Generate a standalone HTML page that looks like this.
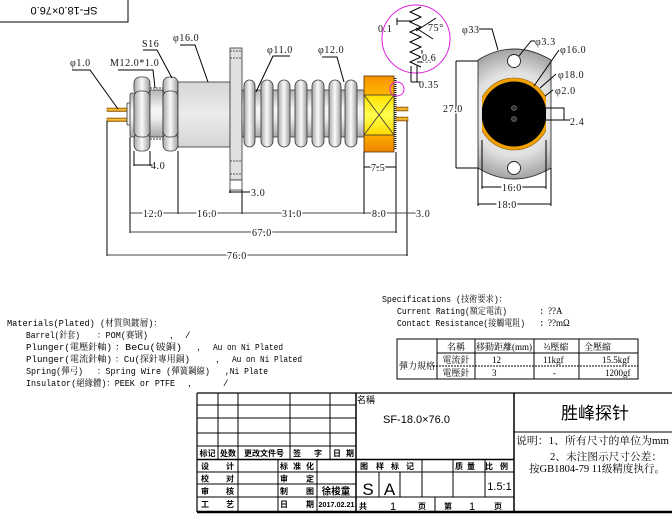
<!DOCTYPE html>
<html><head><meta charset="utf-8">
<style>
html,body{margin:0;padding:0;background:#fff;}
svg{display:block;}
.d{font-family:"Liberation Serif","Noto Serif CJK SC",serif;font-size:10px;fill:#111;letter-spacing:0.6px;}
.h{stroke:#fff;stroke-width:3;paint-order:stroke;}
.m{font-family:"Liberation Mono","Noto Serif CJK SC",monospace;font-size:9px;fill:#000;}
.s{font-family:"Liberation Serif","Noto Serif CJK SC",serif;font-size:9px;fill:#000;}
.k{font-family:"Liberation Sans","Noto Sans CJK SC",sans-serif;font-size:8px;font-weight:bold;fill:#000;}
.t{font-family:"Liberation Sans","Noto Sans CJK SC",sans-serif;fill:#000;}
.ln{stroke:#000;stroke-width:1;fill:none;}
.o{stroke:#333;stroke-width:0.8;}
</style></head><body>
<svg width="672" height="515" viewBox="0 0 672 515" xmlns="http://www.w3.org/2000/svg">
<defs>
 <linearGradient id="gv" x1="0" y1="0" x2="0" y2="1">
  <stop offset="0" stop-color="#b4b4b4"/><stop offset="0.4" stop-color="#f6f6f6"/><stop offset="0.6" stop-color="#eeeeee"/><stop offset="1" stop-color="#a8a8a8"/>
 </linearGradient>
 <linearGradient id="gb" x1="0" y1="0" x2="0" y2="1">
  <stop offset="0" stop-color="#d6d6d6"/><stop offset="0.5" stop-color="#ececec"/><stop offset="1" stop-color="#d4d4d4"/>
 </linearGradient>
 <linearGradient id="gh" x1="0" y1="0" x2="1" y2="0">
  <stop offset="0" stop-color="#a8a8a8"/><stop offset="0.5" stop-color="#fafafa"/><stop offset="1" stop-color="#9c9c9c"/>
 </linearGradient>
 <linearGradient id="go" x1="0" y1="0" x2="0" y2="1">
  <stop offset="0" stop-color="#f59000"/><stop offset="0.25" stop-color="#ffb800"/><stop offset="0.75" stop-color="#ffb000"/><stop offset="1" stop-color="#ee8400"/>
 </linearGradient>
 <linearGradient id="gy" x1="0" y1="0" x2="0" y2="1">
  <stop offset="0" stop-color="#ffe000"/><stop offset="0.5" stop-color="#ffff50"/><stop offset="1" stop-color="#ffd800"/>
 </linearGradient>
 <linearGradient id="gp" x1="0" y1="0" x2="0" y2="1">
  <stop offset="0" stop-color="#b86800"/><stop offset="0.5" stop-color="#ffd040"/><stop offset="1" stop-color="#a85c00"/>
 </linearGradient>
 <radialGradient id="gr" cx="514" cy="114" r="70" gradientUnits="userSpaceOnUse">
  <stop offset="0" stop-color="#fafafa"/><stop offset="0.6" stop-color="#e0e0e0"/><stop offset="1" stop-color="#959595"/>
 </radialGradient>
 <clipPath id="cf"><rect x="482" y="60" width="64" height="110"/></clipPath>
</defs>

<rect x="-1" y="-1" width="129" height="23" fill="#fff" stroke="#000" stroke-width="1"/>
<text class="t" font-size="11" transform="rotate(180 64 11)" x="64" y="15" text-anchor="middle">SF-18.0×76.0</text>

<rect x="107" y="108" width="21" height="3.5" fill="url(#gp)" stroke="#7a4a00" stroke-width="0.5"/>
<rect x="107" y="118" width="21" height="3.5" fill="url(#gp)" stroke="#7a4a00" stroke-width="0.5"/>
<rect x="127" y="103" width="4" height="22" rx="1" fill="#f2f2f2" class="o"/>
<rect x="130" y="93" width="5" height="44" rx="2" fill="url(#gv)" class="o"/>
<rect x="134" y="77" width="16" height="18" rx="6" fill="url(#gh)" class="o"/>
<rect x="134" y="133" width="16" height="18" rx="6" fill="url(#gh)" class="o"/>
<rect x="134" y="91" width="16" height="46" rx="6" fill="url(#gh)" class="o"/>
<rect x="150" y="90" width="13" height="47" fill="url(#gv)" class="o"/>
<line x1="150" y1="88" x2="163" y2="88" stroke="#333" stroke-dasharray="2,1"/>
<line x1="150" y1="139" x2="163" y2="139" stroke="#333" stroke-dasharray="2,1"/>
<rect x="163" y="77" width="15" height="18" rx="6" fill="url(#gh)" class="o"/>
<rect x="163" y="133" width="15" height="18" rx="6" fill="url(#gh)" class="o"/>
<rect x="163" y="91" width="15" height="46" rx="6" fill="url(#gh)" class="o"/>
<rect x="178" y="82" width="52" height="65" fill="url(#gb)" class="o"/>
<rect x="230" y="48" width="12" height="132" fill="#e0e0e0" class="o"/>
<rect x="230" y="180" width="12" height="10" fill="#fff" class="o"/>
<line x1="230" y1="51" x2="242" y2="51" stroke="#555" stroke-dasharray="2,1"/>
<line x1="230" y1="58" x2="242" y2="58" stroke="#555" stroke-dasharray="2,1"/>
<line x1="230" y1="161" x2="242" y2="161" stroke="#555" stroke-dasharray="2,1"/>
<line x1="230" y1="174" x2="242" y2="174" stroke="#555" stroke-dasharray="2,1"/>
<rect x="242" y="90" width="123" height="47" fill="url(#gv)" class="o"/>
<g fill="url(#gh)" class="o">
<rect x="244" y="80" width="11" height="67" rx="5.5"/>
<rect x="261" y="80" width="12" height="67" rx="6"/>
<rect x="278" y="80" width="12" height="67" rx="6"/>
<rect x="295" y="80" width="12" height="67" rx="6"/>
<rect x="312" y="80" width="12" height="67" rx="6"/>
<rect x="329" y="80" width="12" height="67" rx="6"/>
<rect x="345" y="80" width="12" height="67" rx="6"/>
</g>
<rect x="364" y="76" width="30" height="76" fill="url(#go)" stroke="#553300" stroke-width="0.8"/>
<rect x="364" y="95" width="30" height="40" fill="url(#gy)" stroke="#333" stroke-width="0.8"/>
<line x1="364" y1="95" x2="394" y2="135" stroke="#333" stroke-width="0.8"/>
<line x1="394" y1="95" x2="364" y2="135" stroke="#333" stroke-width="0.8"/>
<line x1="395.5" y1="78" x2="395.5" y2="150" stroke="#222" stroke-width="2" stroke-dasharray="1,1"/>
<rect x="396" y="107" width="12" height="4" fill="url(#gp)" stroke="#7a4a00" stroke-width="0.5"/>
<rect x="396" y="117" width="12" height="4" fill="url(#gp)" stroke="#7a4a00" stroke-width="0.5"/>
<circle cx="397" cy="89" r="7" fill="none" stroke="#e020e0" stroke-width="1"/>
<circle cx="416" cy="39" r="34" fill="none" stroke="#e020e0" stroke-width="1"/>
<polyline class="ln" stroke-width="0.9" points="421,7 410,12 421,17 410,22 421,27 410,32 421,37 410,42 421,47 410,52 421,57 410,62 421,67"/>
<polyline class="ln" stroke-width="0.9" points="397,18 397,25"/>
<line class="ln" stroke-width="0.9" x1="397" y1="21" x2="412" y2="21"/>
<line class="ln" stroke-width="0.9" x1="416" y1="31" x2="436" y2="18"/>
<line class="ln" stroke-width="0.9" x1="416" y1="28" x2="433" y2="39"/>
<line class="ln" stroke-width="0.9" x1="422" y1="50" x2="422" y2="62"/>
<line class="ln" stroke-width="0.9" x1="417" y1="62" x2="431" y2="62"/>
<line class="ln" stroke-width="0.9" x1="411" y1="66" x2="411" y2="82"/>
<line class="ln" stroke-width="0.9" x1="417" y1="66" x2="417" y2="82"/>
<line class="ln" stroke-width="0.9" x1="411" y1="82" x2="420" y2="82"/>
<text class="d" x="378" y="32">0.1</text>
<text class="d" x="428" y="31">75°</text>
<text class="d h" x="422" y="61">0.6</text>
<text class="d" x="419" y="88">0.35</text>

<text class="d" x="70" y="66">φ1.0</text>
<polyline class="ln" stroke-width="0.9" points="72,70 90,70 118,109"/>
<text class="d" x="110" y="66">M12.0*1.0</text>
<polyline class="ln" stroke-width="0.9" points="118,70 153,70 155,88"/>
<text class="d" x="142" y="47">S16</text>
<polyline class="ln" stroke-width="0.9" points="143,50 157,50 172,78"/>
<text class="d" x="173" y="41">φ16.0</text>
<polyline class="ln" stroke-width="0.9" points="180,45 195,45 208,82"/>
<text class="d" x="267" y="53">φ11.0</text>
<polyline class="ln" stroke-width="0.9" points="290,56 273,56 256,92"/>
<text class="d" x="318" y="53">φ12.0</text>
<polyline class="ln" stroke-width="0.9" points="322,57 337,57 344,82"/>

<g class="ln">
<line x1="107" y1="121" x2="107" y2="256"/>
<line x1="130" y1="137" x2="130" y2="233"/>
<line x1="134" y1="151" x2="134" y2="166"/>
<line x1="150" y1="151" x2="150" y2="166"/>
<line x1="134" y1="165" x2="152" y2="165"/>
<line x1="178" y1="151" x2="178" y2="214"/>
<line x1="230" y1="190" x2="230" y2="193"/>
<line x1="242" y1="190" x2="242" y2="214"/>
<line x1="229" y1="192" x2="250" y2="192"/>
<line x1="364" y1="152" x2="364" y2="214"/>
<line x1="396" y1="152" x2="396" y2="233"/>
<line x1="407" y1="121" x2="407" y2="256"/>
<line x1="364" y1="167" x2="396" y2="167"/>
<line x1="130" y1="213" x2="418" y2="213" stroke="#444"/>
<line x1="130" y1="232" x2="397" y2="232" stroke="#444"/>
<line x1="107" y1="255" x2="408" y2="255" stroke="#444"/>
</g>
<text class="d" x="151" y="169">4.0</text>
<text class="d" x="251" y="196">3.0</text>
<text class="d h" x="371" y="171">7.5</text>
<text class="d h" x="143" y="217">12.0</text>
<text class="d h" x="197" y="217">16.0</text>
<text class="d h" x="282" y="217">31.0</text>
<text class="d h" x="372" y="217">8.0</text>
<text class="d h" x="416" y="217">3.0</text>
<text class="d h" x="252" y="236">67.0</text>
<text class="d h" x="227" y="259">76.0</text>

<path d="M478,60 Q514,38 551,60 L551,168 Q514,190 478,168 Z" fill="url(#gr)" stroke="#333" stroke-width="0.9"/>
<g clip-path="url(#cf)">
<circle cx="514" cy="114" r="36" fill="#f0a000" stroke="#8a5a00" stroke-width="0.6"/>
<circle cx="514" cy="114" r="32.5" fill="#000"/>
</g>
<circle cx="514" cy="61" r="6.5" fill="#fff" stroke="#222" stroke-width="0.9"/>
<circle cx="514" cy="168" r="6.5" fill="#fff" stroke="#222" stroke-width="0.9"/>
<circle cx="514" cy="108" r="2.5" fill="#333" stroke="#888" stroke-width="0.6"/>
<circle cx="514" cy="119" r="2.5" fill="#333" stroke="#888" stroke-width="0.6"/>
<g class="ln" stroke-width="0.9">
<polyline points="546,108 564,108 564,120 546,120"/>
<polyline points="564,120 570,120"/>
<line x1="456" y1="61" x2="478" y2="61"/>
<line x1="456" y1="168" x2="478" y2="168"/>
<line x1="456" y1="61" x2="456" y2="168"/>
<line x1="482" y1="140" x2="482" y2="189"/>
<line x1="546" y1="140" x2="546" y2="189"/>
<line x1="482" y1="187" x2="546" y2="187"/>
<line x1="478" y1="168" x2="478" y2="206"/>
<line x1="551" y1="168" x2="551" y2="206"/>
<line x1="478" y1="204" x2="551" y2="204"/>
<polyline points="479,29 492,29 498,50"/>
<polyline points="535,41 531,41 519,56"/>
<line x1="559" y1="50" x2="534" y2="86"/>
<line x1="556" y1="74" x2="540" y2="88"/>
<line x1="553" y1="90" x2="545" y2="96"/>
</g>
<text class="d" x="462" y="33">φ33</text>
<text class="d" x="535" y="45">φ3.3</text>
<text class="d" x="560" y="53">φ16.0</text>
<text class="d" x="558" y="78">φ18.0</text>
<text class="d" x="555" y="94">φ2.0</text>
<text class="d" x="570" y="125">2.4</text>
<text class="d h" x="443" y="112">27.0</text>
<text class="d h" x="502" y="191">16.0</text>
<text class="d h" x="497" y="208">18.0</text>

<g class="m">
<text x="7" y="326" textLength="155" lengthAdjust="spacingAndGlyphs">Materials(Plated) (材質與鍍層)：</text>
<text x="26" y="338" textLength="54" lengthAdjust="spacingAndGlyphs">Barrel(針套)</text>
<text x="97" y="338" textLength="51" lengthAdjust="spacingAndGlyphs">：POM(赛钢)</text>
<text x="170" y="338">，</text><text x="185" y="338">/</text>
<text x="26" y="350" textLength="86" lengthAdjust="spacingAndGlyphs">Plunger(電壓針軸)</text>
<text x="115" y="350" textLength="67" lengthAdjust="spacingAndGlyphs">：BeCu(铍銅)</text>
<text x="197" y="350">，</text>
<text x="213" y="350" textLength="70" lengthAdjust="spacingAndGlyphs">Au on Ni Plated</text>
<text x="26" y="362" textLength="86" lengthAdjust="spacingAndGlyphs">Plunger(電流針軸)</text>
<text x="115" y="362" textLength="75" lengthAdjust="spacingAndGlyphs">：Cu(探針專用銅)</text>
<text x="216" y="362">，</text>
<text x="232" y="362" textLength="70" lengthAdjust="spacingAndGlyphs">Au on Ni Plated</text>
<text x="26" y="374" textLength="57" lengthAdjust="spacingAndGlyphs">Spring(彈弓)</text>
<text x="97" y="374" textLength="113" lengthAdjust="spacingAndGlyphs">：Spring Wire (彈簧鋼線)</text>
<text x="225" y="374" textLength="43" lengthAdjust="spacingAndGlyphs">,Ni Plate</text>
<text x="26" y="386" textLength="149" lengthAdjust="spacingAndGlyphs">Insulator(絕緣體)：PEEK or PTFE</text>
<text x="188" y="386">，</text><text x="223" y="386">/</text>
</g>

<g class="m">
<text x="382" y="302" textLength="125" lengthAdjust="spacingAndGlyphs">Specifications (技術要求)：</text>
<text x="397" y="314" textLength="110" lengthAdjust="spacingAndGlyphs">Current Rating(額定電流)</text>
<text x="539" y="314">:</text>
<text x="548" y="314" class="s">??A</text>
<text x="397" y="326" textLength="128" lengthAdjust="spacingAndGlyphs">Contact Resistance(接觸電阻)</text>
<text x="539" y="326">:</text>
<text x="548" y="326" class="s">??mΩ</text>
</g>
<g class="ln" stroke-width="0.9">
<rect x="397" y="339" width="241" height="40"/>
<line x1="437" y1="339" x2="437" y2="379"/>
<line x1="475" y1="339" x2="475" y2="379"/>
<line x1="534" y1="339" x2="534" y2="379"/>
<line x1="579" y1="339" x2="579" y2="379"/>
<line x1="437" y1="353" x2="638" y2="353"/>
<line x1="433" y1="366" x2="638" y2="366" stroke-dasharray="2,1"/>
</g>
<g class="s">
<text x="456" y="350" text-anchor="middle">名稱</text>
<text x="504" y="350" text-anchor="middle">移動距離(mm)</text>
<text x="556" y="350" text-anchor="middle">⅔壓縮</text>
<text x="584" y="350">全壓縮</text>
<text x="399" y="369">彈力規格</text>
<text x="456" y="363" text-anchor="middle">電流針</text>
<text x="492" y="363">12</text>
<text x="543" y="363">11kgf</text>
<text x="602" y="363">15.5kgf</text>
<text x="456" y="376" text-anchor="middle">電壓針</text>
<text x="492" y="376">3</text>
<text x="553" y="376">-</text>
<text x="605" y="376">1200gf</text>
</g>

<g stroke="#000" fill="none">
<line x1="197" y1="393" x2="672" y2="393" stroke-width="1.2"/>
<line x1="197" y1="405" x2="356" y2="405"/>
<line x1="197" y1="418" x2="356" y2="418"/>
<line x1="197" y1="433" x2="356" y2="433"/>
<line x1="197" y1="446" x2="356" y2="446"/>
<line x1="197" y1="459.5" x2="514" y2="459.5" stroke-width="1.5"/>
<line x1="197" y1="472" x2="514" y2="472"/>
<line x1="197" y1="484" x2="356" y2="484"/>
<line x1="197" y1="497" x2="514" y2="497"/>
<line x1="197" y1="512" x2="672" y2="512" stroke-width="2.5"/>
<line x1="197" y1="393" x2="197" y2="512" stroke-width="1.2"/>
<line x1="218" y1="393" x2="218" y2="459"/>
<line x1="238" y1="393" x2="238" y2="512"/>
<line x1="290" y1="393" x2="290" y2="459"/>
<line x1="330" y1="393" x2="330" y2="459"/>
<line x1="278" y1="459" x2="278" y2="512"/>
<line x1="317" y1="459" x2="317" y2="512"/>
<line x1="356" y1="393" x2="356" y2="512" stroke-width="1.5"/>
<line x1="379" y1="472" x2="379" y2="497"/>
<line x1="400" y1="472" x2="400" y2="497"/>
<line x1="422" y1="459" x2="422" y2="497"/>
<line x1="453" y1="459" x2="453" y2="497"/>
<line x1="485" y1="459" x2="485" y2="497"/>
<line x1="435" y1="497" x2="435" y2="512"/>
<line x1="514" y1="393" x2="514" y2="512" stroke-width="1.5"/>
<line x1="514" y1="432" x2="672" y2="432"/>
</g>
<g class="k">
<text x="207.5" y="456" text-anchor="middle">标记</text>
<text x="228" y="456" text-anchor="middle">处数</text>
<text x="264" y="456" text-anchor="middle">更改文件号</text>
<text x="297" y="456" text-anchor="middle">签</text>
<text x="318" y="456" text-anchor="middle">字</text>
<text x="337" y="456" text-anchor="middle">日</text>
<text x="350" y="456" text-anchor="middle">期</text>
<text x="205" y="469" text-anchor="middle">设</text><text x="230" y="469" text-anchor="middle">计</text>
<text x="284" y="469" text-anchor="middle">标</text><text x="297" y="469" text-anchor="middle">准</text><text x="310" y="469" text-anchor="middle">化</text>
<text x="205" y="481.5" text-anchor="middle">校</text><text x="230" y="481.5" text-anchor="middle">对</text>
<text x="284" y="481.5" text-anchor="middle">审</text><text x="310" y="481.5" text-anchor="middle">定</text>
<text x="205" y="494" text-anchor="middle">审</text><text x="230" y="494" text-anchor="middle">核</text>
<text x="284" y="494" text-anchor="middle">制</text><text x="310" y="494" text-anchor="middle">图</text>
<text x="336" y="494.5" text-anchor="middle" font-size="9.5">徐梭童</text>
<text x="205" y="507" text-anchor="middle">工</text><text x="230" y="507" text-anchor="middle">艺</text>
<text x="284" y="507" text-anchor="middle">日</text><text x="310" y="507" text-anchor="middle">期</text>
<text x="336.5" y="507" text-anchor="middle" font-size="7.5" textLength="36" lengthAdjust="spacingAndGlyphs">2017.02.21</text>
<text x="364" y="469" text-anchor="middle">图</text><text x="380" y="469" text-anchor="middle">样</text>
<text x="395" y="469" text-anchor="middle">标</text><text x="410" y="469" text-anchor="middle">记</text>
<text x="459" y="469" text-anchor="middle">质</text><text x="471" y="469" text-anchor="middle">量</text>
<text x="489" y="469" text-anchor="middle">比</text><text x="504" y="469" text-anchor="middle">例</text>
<text x="363" y="509" text-anchor="middle">共</text>
<text x="422" y="509" text-anchor="middle">页</text>
<text x="448" y="509" text-anchor="middle">第</text>
<text x="498" y="509" text-anchor="middle">页</text>
</g>
<text class="t" x="357" y="403" font-size="9">名稱</text>
<text class="t" x="383" y="423" font-size="11">SF-18.0×76.0</text>
<text class="t" x="368" y="495" font-size="17" text-anchor="middle">S</text>
<text class="t" x="389.5" y="495" font-size="17" text-anchor="middle">A</text>
<text class="t" x="499.5" y="490" font-size="11" text-anchor="middle">1.5:1</text>
<text class="t" x="393" y="510" font-size="11" text-anchor="middle">1</text>
<text class="t" x="472" y="510" font-size="11" text-anchor="middle">1</text>
<text class="t" x="595" y="419" font-size="17" text-anchor="middle">胜峰探针</text>
<g font-family="Liberation Serif, Noto Serif CJK SC, serif" font-size="10.5" fill="#000">
<text x="516" y="444" textLength="153" lengthAdjust="spacingAndGlyphs">说明：1、所有尺寸的单位为mm</text>
<text x="550" y="460" textLength="112" lengthAdjust="spacingAndGlyphs">2、未注图示尺寸公差：</text>
<text x="529" y="472" textLength="136" lengthAdjust="spacingAndGlyphs">按GB1804-79 11级精度执行。</text>
</g>
</svg>
</body></html>
